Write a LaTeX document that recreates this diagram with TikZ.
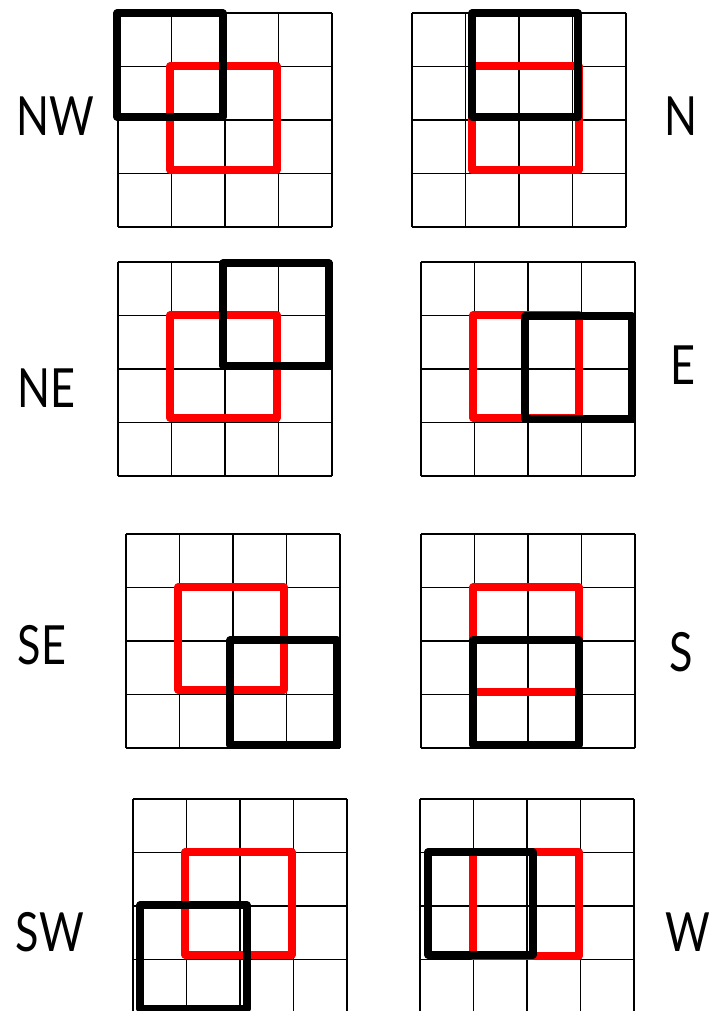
\documentclass[tikz,border=0pt]{standalone}
\usepackage{fontspec}
\newfontfamily\dirfont[FakeStretch=0.8]{Lato}

\begin{document}
\begin{tikzpicture}[x=1pt, y=-1pt,
    gridline/.style={line width=1.6pt},
    redbox/.style={red, line width=7.2pt, line join=round},
    blackbox/.style={black, line width=7.2pt, line join=round},
    dirlabel/.style={font=\dirfont\fontsize{54}{60}\selectfont, inner sep=0pt}]
    \useasboundingbox (0,0) rectangle (712,1011);

    % 4x4 grids, one per direction
    \foreach \gx/\gy in {118/13, 412/13, 118/262, 421/262, 126/534, 421/534, 133/799, 420/799} {
        \foreach \k in {0,...,4} {
            \draw[gridline] (\gx+\k*53.5, \gy) -- ++(0,214);
            \draw[gridline] (\gx, \gy+\k*53.5) -- ++(214,0);
        }
    }

    % Red boxes (centre window)
    \draw[redbox] (170,66) rectangle (277,170);
    \draw[redbox] (472,66) rectangle (579,170);
    \draw[redbox] (170,315) rectangle (277,418);
    \draw[redbox] (473,315) rectangle (579,418);
    \draw[redbox] (178,587) rectangle (284,690);
    \draw[redbox] (473,587) rectangle (579,692);
    \draw[redbox] (185,852) rectangle (292,955);
    \draw[redbox] (473,852) rectangle (579,956);

    % Black boxes (shifted window)
    \draw[blackbox] (117,13) rectangle (223,117);
    \draw[blackbox] (472,13) rectangle (578,117);
    \draw[blackbox] (223,263) rectangle (329,366);
    \draw[blackbox] (525,316) rectangle (632,419);
    \draw[blackbox] (230,640) rectangle (337,745);
    \draw[blackbox] (473,640) rectangle (579,745);
    \draw[blackbox] (140,905) rectangle (247,1009);
    \draw[blackbox] (428,852) rectangle (533,955);

    % Direction labels
    \node[dirlabel] (lblNW) at (55,116) {NW};
    \node[dirlabel] (lblN) at (681,116) {N};
    \node[dirlabel] (lblNE) at (46,388) {NE};
    \node[dirlabel] (lblE) at (683,365) {E};
    \node[dirlabel] (lblSE) at (42,645) {SE};
    \node[dirlabel] (lblS) at (681,652) {S};
    \node[dirlabel] (lblSW) at (50,932) {SW};
    \node[dirlabel] (lblW) at (688,932) {W};
\end{tikzpicture}
\end{document}
